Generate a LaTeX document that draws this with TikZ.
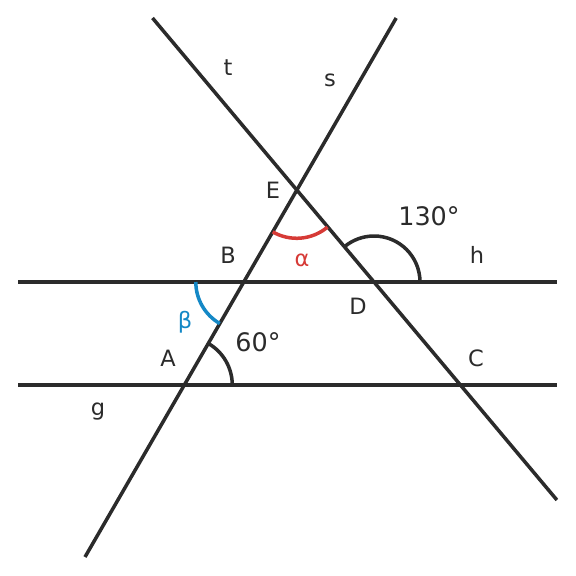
\documentclass[tikz,border=0pt]{standalone}
\usepackage{fontspec}
\setmainfont{DejaVu Sans}
\usetikzlibrary{positioning}
\definecolor{ink}{HTML}{2B2B2B}
\definecolor{alphared}{HTML}{D63A36}
\definecolor{betablue}{HTML}{1488C6}
\tikzset{
  line/.style={ink, line width=2pt},
  lbl/.style={ink, font=\fontsize{12.8}{15}\selectfont, inner sep=0pt},
  anglbl/.style={ink, font=\fontsize{14.5}{17}\selectfont, inner sep=0pt},
}

\begin{document}
\begin{tikzpicture}[x=0.02cm, y=0.02cm]
    \useasboundingbox (0,0) rectangle (576,576);
    % points
    \coordinate (A) at (184.3,191);
    \coordinate (B) at (243.8,294);
    \coordinate (C) at (460.4,191);
    \coordinate (D) at (374,294);
    \coordinate (E) at (296.7,385.7);
    % line ends
    \coordinate (g1) at (18,191);
    \coordinate (g2) at (557,191);
    \coordinate (h1) at (18,294);
    \coordinate (h2) at (557,294);
    \coordinate (s1) at (85,19);
    \coordinate (s2) at (396.2,558);
    \coordinate (t1) at (152.5,558);
    \coordinate (t2) at (556.9,76);
    \draw [line] (g1) -- (g2);
    \draw [line] (h1) -- (h2);
    \draw [line] (s1) -- (s2);
    \draw [line] (t1) -- (t2);
    % angles
    \draw [line] ([xshift=0.96cm]A) arc [start angle=0, end angle=60, radius=0.96cm];
    \draw [line] ([xshift=0.92cm]D) arc [start angle=0, end angle=130, radius=0.92cm];
    \draw [alphared, line width=2pt] (E) ++(240:0.96cm) arc [start angle=240, end angle=310, radius=0.96cm];
    \draw [betablue, line width=2pt] ([xshift=-0.96cm]B) arc [start angle=180, end angle=240, radius=0.96cm];
    % labels
    \node (lA) [lbl] at (168,218) {A};
    \node (lB) [lbl] at (228,321) {B};
    \node (lC) [lbl] at (476,218) {C};
    \node (lD) [lbl] at (358,270) {D};
    \node (lE) [lbl] at (273,386) {E};
    \node (lg) [lbl] at (98,164) {g};
    \node (lh) [lbl] at (477,321) {h};
    \node (ls) [lbl] at (330,496) {s};
    \node (lt) [lbl] at (228,508) {t};
    \node (la) [lbl, alphared] at (302,316) {α};
    \node (lb) [lbl, betablue] at (185,254) {β};
    \node (l60) [anglbl] at (258,234) {60°};
    \node (l130) [anglbl] at (429,360) {130°};
\end{tikzpicture}
\end{document}
